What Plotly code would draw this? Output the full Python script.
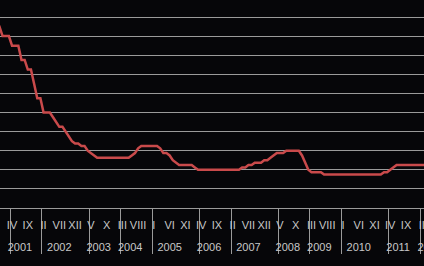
import plotly.graph_objects as go

# Monthly reference rate (%), Jan 2000 .. Oct 2012
years = [str(y) for y in range(2000, 2013)]
months = ["I", "II", "III", "IV", "V", "VI", "VII", "VIII", "IX", "X", "XI", "XII"]

rate_2000 = [16.5, 17.5, 17.5, 17.5, 17.5, 17.5, 17.5, 19.0, 19.0, 19.0, 19.0, 19.0]
rate_2001 = [18.0, 18.0, 18.0, 17.0, 17.0, 17.0, 15.5, 15.5, 14.5, 14.5, 13.0, 11.5]
rate_2002 = [11.5, 10.0, 10.0, 10.0, 9.5, 9.0, 8.5, 8.5, 8.0, 7.5, 7.0, 6.75]
rate_2003 = [6.75, 6.5, 6.5, 6.0, 5.75, 5.5, 5.25, 5.25, 5.25, 5.25, 5.25, 5.25]
rate_2004 = [5.25, 5.25, 5.25, 5.25, 5.25, 5.5, 5.75, 6.25, 6.5, 6.5, 6.5, 6.5]
rate_2005 = [6.5, 6.5, 6.25, 5.75, 5.75, 5.5, 5.0, 4.75, 4.5, 4.5, 4.5, 4.5]
rate_2006 = [4.5, 4.25, 4.0, 4.0, 4.0, 4.0, 4.0, 4.0, 4.0, 4.0, 4.0, 4.0]
rate_2007 = [4.0, 4.0, 4.0, 4.0, 4.25, 4.25, 4.5, 4.5, 4.75, 4.75, 4.75, 5.0]
rate_2008 = [5.0, 5.25, 5.5, 5.75, 5.75, 5.75, 6.0, 6.0, 6.0, 6.0, 6.0, 5.5]
rate_2009 = [4.75, 4.0, 3.75, 3.75, 3.75, 3.75, 3.5, 3.5, 3.5, 3.5, 3.5, 3.5]
rate_2010 = [3.5, 3.5, 3.5, 3.5, 3.5, 3.5, 3.5, 3.5, 3.5, 3.5, 3.5, 3.5]
rate_2011 = [3.5, 3.75, 3.75, 4.0, 4.25, 4.5, 4.5, 4.5, 4.5, 4.5, 4.5, 4.5]
rate_2012 = [4.5, 4.5, 4.5, 4.5, 4.75, 4.75, 4.75, 4.75, 4.75, 4.75]

yearly = [rate_2000, rate_2001, rate_2002, rate_2003, rate_2004, rate_2005,
          rate_2006, rate_2007, rate_2008, rate_2009, rate_2010, rate_2011, rate_2012]

x_year, x_month, y_val = [], [], []
for yr, vals in zip(years, yearly):
    for m, v in zip(months, vals):
        x_year.append(yr)
        # second (blank) line gives the month row more height, spacing the rows apart
        x_month.append(m + "<br><span style='font-size:15px'>\u00a0</span>")
        y_val.append(v)

fig = go.Figure(go.Scatter(
    x=[x_year, x_month], y=y_val, mode="lines",
    line=dict(color="#c94a4b", width=2.5),
    hoverinfo="skip",
))

# The chart is a crop of a wider one: plot a little past the right edge.
bg = "#060609"
fig.update_layout(
    width=450, height=266,
    margin=dict(l=0, r=0, t=0, b=58, autoexpand=False),
    paper_bgcolor=bg, plot_bgcolor=bg,
    showlegend=False,
)
fig.update_xaxes(
    type="multicategory",
    range=[11.18, 153.95],
    tickmode="linear", tick0=0, dtick=5,
    tickangle=0, automargin=False,
    showgrid=False,
    showline=True, linecolor="#9a9a9a", linewidth=1,
    showdividers=True, dividercolor="#9a9a9a", dividerwidth=1,
    ticks="", ticklabelstandoff=7,
    tickfont=dict(color="#c8c8c8", size=11, family="Liberation Sans"),
)
fig.update_yaxes(
    range=[0, 21.78],
    tickmode="linear", tick0=0, dtick=2,
    showgrid=True, gridcolor="#9a9a9a", gridwidth=1,
    showticklabels=False, zeroline=False, showline=False,
    automargin=False,
)

fig.write_html(
    "out.html",
    config={"displayModeBar": False},
    post_script="document.documentElement.style.overflow='hidden';"
                "document.body.style.overflow='hidden';",
)
